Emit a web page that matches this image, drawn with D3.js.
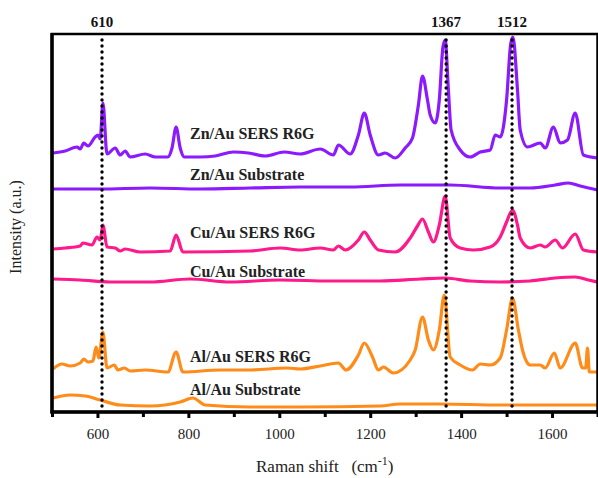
<!DOCTYPE html>
<html><head><meta charset="utf-8">
<script src="https://cdn.jsdelivr.net/npm/d3@7/dist/d3.min.js"></script>
<style>body{margin:0;background:#fff}svg{display:block}
svg text{font-family:"Liberation Serif","Times New Roman","DejaVu Serif",serif !important;}</style>
</head><body>
<svg id="chart" width="598" height="478"></svg>
<script>
// Raman shift (cm-1) and intensity (a.u., offset traces)
const znSersX = [502,529,555,562,570,579,595,601,606,612,621,639,650,661,672,705,727,755,764,773,782,791,826,859,899,932,969,1011,1046,1090,1119,1130,1156,1174,1187,1200,1218,1233,1255,1277,1293,1306,1315,1326,1332,1343,1352,1360,1365,1372,1378,1398,1420,1442,1464,1475,1486,1500,1509,1514,1524,1530,1546,1574,1585,1603,1618,1634,1651,1669,1700];
const znSersY = [259,261,265,263,269,266,275,277,273,309,258,264,257,261,255,258,255,255,264,285,264,255,255,256,260,259,256,260,258,263,257,267,258,277,299,277,257,259,254,264,274,307,336,312,297,289,312,365,372,322,282,262,255,260,262,277,275,312,368,375,322,282,265,269,264,285,269,272,299,257,254];
const znSubX = [502,606,716,826,936,1046,1156,1266,1376,1486,1552,1607,1636,1662,1700];
const znSubY = [223,223,224,223,224,225,225,227,227,224,224,227,229,226,222];
const cuSersX = [502,529,562,568,588,599,606,612,621,639,650,661,694,760,773,788,936,1002,1046,1090,1119,1130,1145,1174,1187,1200,1218,1255,1288,1304,1315,1328,1339,1352,1365,1376,1398,1427,1464,1486,1500,1513,1524,1530,1552,1574,1585,1607,1623,1651,1669,1700];
const cuSersY = [163,164,166,169,167,175,172,187,165,164,161,163,160,161,177,160,161,164,162,164,162,166,162,172,180,172,162,160,174,186,193,180,170,187,216,174,164,162,165,175,190,202,187,174,164,167,165,172,164,178,162,160];
const cuSubX = [502,562,628,716,804,892,1002,1112,1222,1310,1365,1420,1486,1552,1607,1651,1680,1700];
const cuSubY = [133,132,130,130,133,130,132,131,131,133,134,131,130,131,134,135,132,130];
const alSersX = [502,522,540,562,570,579,590,597,603,612,621,637,645,659,672,705,755,773,788,870,936,1017,1046,1090,1130,1147,1174,1187,1205,1218,1229,1251,1288,1299,1315,1328,1339,1352,1363,1376,1398,1425,1442,1464,1486,1500,1513,1526,1535,1552,1574,1585,1605,1618,1651,1667,1674,1678,1682,1700];
const alSersY = [43,48,46,49,53,50,51,65,54,80,44,47,42,44,41,42,40,60,40,42,42,44,43,46,49,42,57,69,55,42,45,39,52,62,95,72,62,82,117,55,47,42,48,47,54,82,114,82,62,47,47,44,59,44,69,44,44,64,40,40];
const alSubX = [502,540,573,606,650,716,782,810,837,936,1046,1222,1266,1354,1486,1618,1700];
const alSubY = [14,17,16,12,7,6,10,14,7,5,5,6,8,8,7,7,7];

const seriesNames = ["Zn/Au SERS R6G","Zn/Au Substrate","Cu/Au SERS R6G","Cu/Au Substrate","Al/Au SERS R6G","Al/Au Substrate"];
const seriesColors = ["#8c1aff","#8c1aff","#ff1a8c","#ff1a8c","#ff8c1a","#ff8c1a"];
const labelY = [273,232,174,135,50,17];   // intensity level of each label baseline
const peakMarks = [610,1367,1512];
const xTickLabels = [600,800,1000,1200,1400,1600];
const xMinorTicks = [500,700,900,1100,1300,1500,1700];

const seriesX = [znSersX,znSubX,cuSersX,cuSubX,alSersX,alSubX];
const seriesY = [znSersY,znSubY,cuSersY,cuSubY,alSersY,alSubY];

const svg = d3.select("#chart");
const L = 52, R = 597.5, T = 34, B = 412;
const x = d3.scaleLinear().domain([500,1700]).range([L,R]);
const y = d3.scaleLinear().domain([0,378]).range([B,T]);

svg.append("defs").append("clipPath").attr("id","pc")
  .append("rect").attr("x",L).attr("y",T-3).attr("width",R-L).attr("height",B-T+3);

const line = d3.line().x(d=>x(d[0])).y(d=>y(d[1])).curve(d3.curveMonotoneX);
const g = svg.append("g").attr("clip-path","url(#pc)");
seriesX.forEach((xs,i)=>{
  const pts = xs.map((v,j)=>[v, seriesY[i][j]]);
  g.append("path").datum(pts).attr("d",line)
    .attr("fill","none").attr("stroke",seriesColors[i])
    .attr("stroke-width",3.2).attr("stroke-linejoin","round");
});

// dotted peak markers
svg.selectAll(".pk").data(peakMarks).join("line")
  .attr("x1",d=>x(d)).attr("x2",d=>x(d)).attr("y1",40).attr("y2",410)
  .attr("stroke","#000").attr("stroke-width",3.4)
  .attr("stroke-linecap","round").attr("stroke-dasharray","0 6");
svg.selectAll(".pkt").data(peakMarks).join("text")
  .attr("x",d=>x(d)).attr("y",27).attr("text-anchor","middle")
  .attr("font-weight","bold").attr("font-size",15).attr("fill","#111")
  .text(d=>d);

// series labels
seriesNames.forEach((n,i)=>{
  svg.append("text").attr("x",190).attr("y",y(labelY[i]))
    .attr("font-weight","bold").attr("font-size",16)
    .attr("fill","#222").text(n);
});

// frame
svg.append("rect").attr("x",L).attr("y",T).attr("width",R-L).attr("height",B-T)
  .attr("fill","none").attr("stroke","#000").attr("stroke-width",2.5);
svg.append("line").attr("x1",L).attr("x2",L).attr("y1",T-1).attr("y2",B+1.5).attr("stroke","#000").attr("stroke-width",3.5);
svg.append("line").attr("x1",L-1.5).attr("x2",R+1).attr("y1",B).attr("y2",B).attr("stroke","#000").attr("stroke-width",3.5);

// axis
const ax = svg.append("g").attr("transform",`translate(0,${B})`)
  .call(d3.axisBottom(x).tickValues(xTickLabels).tickSize(6).tickFormat(d3.format("d")));
ax.select(".domain").remove();
ax.selectAll("line").attr("stroke","#000").attr("stroke-width",3);
ax.selectAll("text").attr("font-size",15).attr("fill","#222").attr("dy","1.2em");
const axm = svg.append("g").attr("transform",`translate(0,${B})`)
  .call(d3.axisBottom(x).tickValues(xMinorTicks).tickSize(5).tickFormat(""));
axm.select(".domain").remove();
axm.selectAll("line").attr("stroke","#000").attr("stroke-width",3);

// axis titles
const xt = svg.append("text").attr("x",(L+R)/2).attr("y",472).attr("text-anchor","middle")
  .attr("font-size",17).attr("fill","#222").attr("xml:space","preserve");
xt.append("tspan").text("Raman shift   (cm");
xt.append("tspan").attr("font-size",12).attr("dy",-7).text("-1");
xt.append("tspan").attr("dy",7).text(")");

svg.append("text").attr("transform",`translate(21,227) rotate(-90)`).attr("text-anchor","middle")
  .attr("font-size",16).attr("fill","#222").text("Intensity (a.u.)");
</script>
</body></html>
